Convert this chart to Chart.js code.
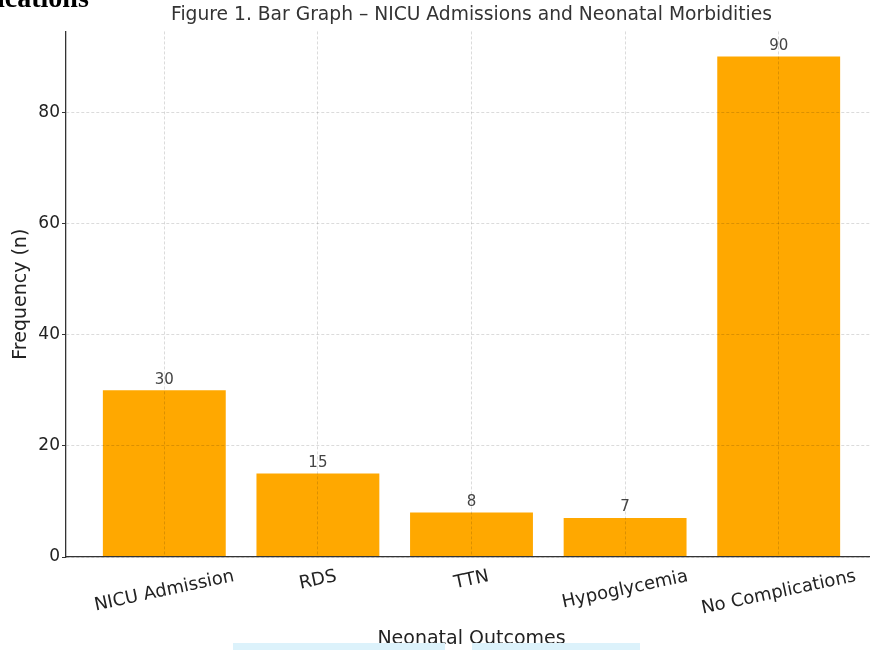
<!doctype html>
<html>
<head>
<meta charset="utf-8">
<title>Figure 1. Bar Graph - NICU Admissions and Neonatal Morbidities</title>
<script src="https://cdn.jsdelivr.net/npm/chart.js@4.4.1/dist/chart.umd.min.js"></script>
<style>
  html, body { margin: 0; padding: 0; background: #fff; overflow: hidden; }
  #wrap { position: relative; width: 880px; height: 650px; }
  #cut { position: absolute; left: -3px; top: -16px; font: bold 28px/28px "Liberation Serif", serif; color: #000; }
  .band { position: absolute; top: 643px; height: 7px; background: #dcf2fb; }
</style>
</head>
<body>
<div id="wrap">
  <canvas id="myChart"></canvas>
  <div id="cut">ications</div>
  <div class="band" style="left:233px;width:212px"></div>
  <div class="band" style="left:472px;width:168px"></div>
</div>
<script>
const outcomes = ['NICU Admission', 'RDS', 'TTN', 'Hypoglycemia', 'No Complications'];
const counts = [30, 15, 8, 7, 90];
const yTicks = [0, 20, 40, 60, 80];

Chart.defaults.font.family = '"DejaVu Sans", sans-serif';

const gridColor = 'rgba(0, 0, 0, 0.18)';

// bar values on top + rotated outcome labels centred under each bar
const textPlugin = {
  id: 'textPlugin',
  afterDraw(chart) {
    const ctx = chart.ctx;
    const xs = chart.scales.x;
    const bars = chart.getDatasetMeta(0).data;
    ctx.save();
    ctx.fillStyle = '#444';
    ctx.font = '15px "DejaVu Sans"';
    ctx.textAlign = 'center';
    ctx.textBaseline = 'bottom';
    bars.forEach((bar, i) => ctx.fillText(String(counts[i]), bar.x, bar.y - 3));

    ctx.font = '18px "DejaVu Sans"';
    ctx.fillStyle = '#222';
    ctx.textBaseline = 'middle';
    const ang = 12 * Math.PI / 180;
    outcomes.forEach((label, i) => {
      const w = ctx.measureText(label).width;
      const boxH = w * Math.sin(ang) + 21 * Math.cos(ang);
      ctx.save();
      ctx.translate(xs.getPixelForValue(i), chart.chartArea.bottom + 9 + boxH / 2);
      ctx.rotate(-ang);
      ctx.fillText(label, 0, 0);
      ctx.restore();
    });
    ctx.restore();
  }
};

const ctx = document.getElementById('myChart').getContext('2d');
const myChart = new Chart(ctx, {
  type: 'bar',
  data: {
    datasets: [{
      label: 'Frequency',
      data: outcomes.map((_, i) => ({x: i, y: counts[i]})),
      backgroundColor: '#FFA800',
      borderWidth: 0,
      barPercentage: 0.8,
      categoryPercentage: 1.0
    }]
  },
  options: {
    responsive: true,
    maintainAspectRatio: false,
    animation: false,
    layout: { padding: { right: 3 } },
    scales: {
      x: {
        type: 'linear',
        offset: false,
        min: -0.64,
        max: 4.64,
        afterBuildTicks: axis => { axis.ticks = outcomes.map((_, i) => ({value: i})); },
        ticks: { display: false },
        grid: { color: gridColor, lineWidth: 0.8, drawTicks: false, offset: false, z: 1 },
        border: { color: '#333', width: 1.3, dash: [3, 2], z: 2 },
        title: {
          display: true,
          text: 'Neonatal Outcomes',
          color: '#222',
          font: { size: 19 },
          padding: { top: 0, bottom: 0 }
        },
        afterFit: axis => { axis.height = 93; }
      },
      y: {
        min: 0,
        max: 94.5,
        afterBuildTicks: axis => { axis.ticks = yTicks.map(v => ({value: v})); },
        ticks: { color: '#222', font: { size: 17 }, padding: 2 },
        grid: { color: gridColor, lineWidth: 0.8, tickLength: 4, tickColor: '#333', tickWidth: 1, z: 1 },
        border: { color: '#333', width: 1.3, dash: [3, 2], z: 2 },
        title: {
          display: true,
          text: 'Frequency (n)',
          color: '#222',
          font: { size: 19 },
          padding: { top: 10, bottom: 0 }
        },
        afterFit: axis => { axis.width = 66; }
      }
    },
    plugins: {
      legend: { display: false },
      tooltip: { enabled: false },
      title: {
        display: true,
        text: 'Figure 1. Bar Graph – NICU Admissions and Neonatal Morbidities',
        fullSize: false,
        color: '#333',
        font: { size: 18.7, weight: 'normal' },
        padding: { top: 4, bottom: 5 }
      }
    }
  },
  plugins: [textPlugin]
});
</script>
</body>
</html>
